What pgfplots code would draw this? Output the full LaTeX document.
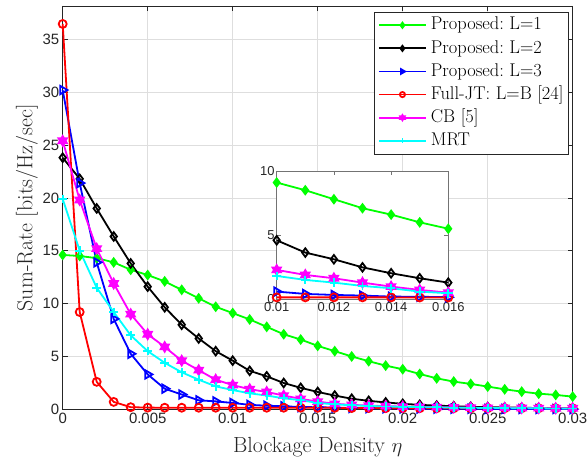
\documentclass[border=0pt]{standalone}
\usepackage{fontspec}
\usepackage{pgfplots}
\usepackage{pgfplotstable}
\pgfplotsset{compat=1.18}
\newfontfamily\tickfont{Liberation Sans}
\definecolor{mgreen}{rgb}{0,1,0}
\definecolor{mblue}{rgb}{0,0,1}
\definecolor{mred}{rgb}{1,0,0}
\definecolor{mmag}{rgb}{1,0,1}
\definecolor{mcyan}{rgb}{0,1,1}

\pgfdeclareplotmark{hexagram}{%
  \pgfpathmoveto{\pgfpointpolar{90}{\pgfplotmarksize}}%
  \pgfpathlineto{\pgfpointpolar{120}{0.577\pgfplotmarksize}}%
  \pgfpathlineto{\pgfpointpolar{150}{\pgfplotmarksize}}%
  \pgfpathlineto{\pgfpointpolar{180}{0.577\pgfplotmarksize}}%
  \pgfpathlineto{\pgfpointpolar{210}{\pgfplotmarksize}}%
  \pgfpathlineto{\pgfpointpolar{240}{0.577\pgfplotmarksize}}%
  \pgfpathlineto{\pgfpointpolar{270}{\pgfplotmarksize}}%
  \pgfpathlineto{\pgfpointpolar{300}{0.577\pgfplotmarksize}}%
  \pgfpathlineto{\pgfpointpolar{330}{\pgfplotmarksize}}%
  \pgfpathlineto{\pgfpointpolar{0}{0.577\pgfplotmarksize}}%
  \pgfpathlineto{\pgfpointpolar{30}{\pgfplotmarksize}}%
  \pgfpathlineto{\pgfpointpolar{60}{0.577\pgfplotmarksize}}%
  \pgfpathclose
  \pgfusepathqfillstroke
}

\pgfplotstableread{
x      lone  ltwo  lthree fjt   cb    mrt
0      14.6  23.8  30.2   36.45 25.4  19.9
0.001  14.5  21.8  21.4   9.2   19.8  15.0
0.002  14.3  19.0  13.9   2.6   15.2  11.5
0.003  13.9  16.35 8.55   0.7   11.9  9.2
0.004  13.2  13.8  5.25   0.2   9.0   7.0
0.005  12.7  11.6  3.3    0.16  7.1   5.5
0.006  12.1  9.65  1.95   0.15  5.9   4.4
0.007  11.3  8.0   1.4    0.15  4.6   3.5
0.008  10.5  6.7   0.85   0.15  3.7   2.8
0.009  9.7   5.5   0.75   0.15  2.8   2.17
0.010  9.1   4.6   0.6    0.15  2.29  1.82
0.011  8.5   3.64  0.42   0.15  1.9   1.51
0.012  7.8   3.12  0.34   0.15  1.64  1.30
0.013  7.1   2.49  0.29   0.15  1.30  1.04
0.014  6.6   2.03  0.21   0.15  0.99  0.86
0.015  6.0   1.64  0.2    0.14  0.73  0.60
0.016  5.5   1.30  0.16   0.14  0.52  0.47
0.017  5.0   1.0   0.13   0.12  0.42  0.38
0.018  4.55  0.8   0.11   0.12  0.35  0.32
0.019  4.13  0.65  0.1    0.11  0.3   0.27
0.020  3.79  0.52  0.08   0.11  0.26  0.23
0.021  3.34  0.42  0.07   0.1   0.23  0.2
0.022  2.93  0.35  0.06   0.1   0.2   0.18
0.023  2.62  0.29  0.05   0.1   0.18  0.16
0.024  2.40  0.24  0.05   0.1   0.16  0.14
0.025  2.15  0.2   0.04   0.1   0.14  0.12
0.026  1.89  0.17  0.04   0.1   0.13  0.11
0.027  1.67  0.15  0.03   0.1   0.12  0.1
0.028  1.48  0.12  0.03   0.1   0.11  0.09
0.029  1.36  0.1   0.03   0.1   0.1   0.08
0.030  1.20  0.08  0.02   0.1   0.1   0.08
}\datatable

\pgfplotsset{
  sL1/.style={color=mgreen, line width=1.8bp, mark=diamond*, mark size=4bp, mark options={solid}},
  sL2/.style={color=black, line width=1.8bp, mark=diamond, mark size=4.3bp, mark options={solid}},
  sL3/.style={color=mblue, line width=1.8bp, mark=triangle, mark size=4.8bp, mark options={solid, rotate=-90}},
  sFJ/.style={color=mred, line width=1.8bp, mark=o, mark size=4bp, mark options={solid}},
  sCB/.style={color=mmag, line width=1.8bp, mark=hexagram, mark size=4.8bp, mark options={solid}},
  sMRT/.style={color=mcyan, line width=1.8bp, mark=+, mark size=4.3bp, mark options={solid}},
}

\begin{document}
\begin{tikzpicture}
\begin{axis}[
  at={(0,0)}, anchor=south west,
  scale only axis, width=510bp, height=403.3bp,
  xmin=0, xmax=0.03, ymin=0, ymax=38.15,
  clip=false,
  xtick={0,0.005,0.01,0.015,0.02,0.025,0.03},
  xticklabels={0,0.005,0.01,0.015,0.02,0.025,0.03},
  ytick={0,5,...,35},
  scaled x ticks=false,
  tick align=inside, major tick length=5bp,
  grid=major, major grid style={black!13, line width=0.6bp},
  axis line style={black!85, line width=0.6bp},
  every tick/.style={black!85, line width=0.6bp},
  tick label style={font=\tickfont\fontsize{15}{17}\selectfont, text=black!85},
  /pgf/number format/assume math mode=true,
  xlabel={Blockage Density $\eta$},
  ylabel={Sum-Rate [bits/Hz/sec]},
  label style={font=\fontsize{22}{24}\selectfont, text=black!85},
  xlabel style={at={(axis description cs:0.5,-0.095)}, anchor=center},
  ylabel style={at={(axis description cs:-0.07,0.5)}, anchor=center},
  legend style={at={(0.9914,0.9859)}, anchor=north east,
    font=\fontsize{18.5}{20}\selectfont, draw=black!85, line width=0.6bp,
    inner xsep=3.5bp, inner ysep=3bp, row sep=2.5bp, column sep=3bp,
    nodes={inner sep=1bp, text height=14bp, text depth=4.6bp}},
  legend cell align=left,
  legend image code/.code={\draw[mark repeat=2,mark phase=2,#1, mark size=2.6bp] plot coordinates {(0bp,0bp) (23.5bp,0bp) (47bp,0bp)};},
]
\addplot[sL1] table[x=x,y=lone] {\datatable};
\addlegendentry{Proposed:\ L=1}
\addplot[sL2] table[x=x,y=ltwo] {\datatable};
\addlegendentry{Proposed:\ L=2}
\addplot[sL3] table[x=x,y=lthree] {\datatable};
\addlegendentry{Proposed:\ L=3}
\addplot[sFJ] table[x=x,y=fjt] {\datatable};
\addlegendentry{Full-JT: L=B [24]}
\addplot[sCB] table[x=x,y=cb] {\datatable};
\addlegendentry{CB [5]}
\addplot[sMRT] table[x=x,y=mrt] {\datatable};
\addlegendentry{MRT}
\end{axis}
\begin{axis}[
  at={(214bp,110bp)}, anchor=south west,
  scale only axis, width=171.6bp, height=128.3bp,
  xmin=0.01, xmax=0.016, ymin=0, ymax=10,
  clip=false,
  axis background/.style={fill=white},
  xtick={0.01,0.012,0.014,0.016},
  xticklabels={0.01,0.012,0.014,0.016},
  ytick={0,5,10},
  scaled x ticks=false,
  tick align=inside, major tick length=4bp,
  axis line style={black!55, line width=0.6bp},
  every tick/.style={black!55, line width=0.6bp},
  tick label style={font=\tickfont\fontsize{13}{14}\selectfont, text=black!85, inner sep=1bp},
  yticklabel style={xshift=-1bp},
  xticklabel style={yshift=-2bp},
  /pgf/number format/assume math mode=true,
]
\addplot[sL1] table[x=x,y=lone, restrict x to domain=0.0099:0.0161] {\datatable};
\addplot[sL2] table[x=x,y=ltwo, restrict x to domain=0.0099:0.0161] {\datatable};
\addplot[sL3] table[x=x,y=lthree, restrict x to domain=0.0099:0.0161] {\datatable};
\addplot[sFJ] table[x=x,y=fjt, restrict x to domain=0.0099:0.0161] {\datatable};
\addplot[sCB] table[x=x,y=cb, restrict x to domain=0.0099:0.0161] {\datatable};
\addplot[sMRT] table[x=x,y=mrt, restrict x to domain=0.0099:0.0161] {\datatable};
\end{axis}
\pgfresetboundingbox
\path[use as bounding box] (-62.7bp,-49.7bp) rectangle (525.3bp,409.3bp);
\end{tikzpicture}
\end{document}
